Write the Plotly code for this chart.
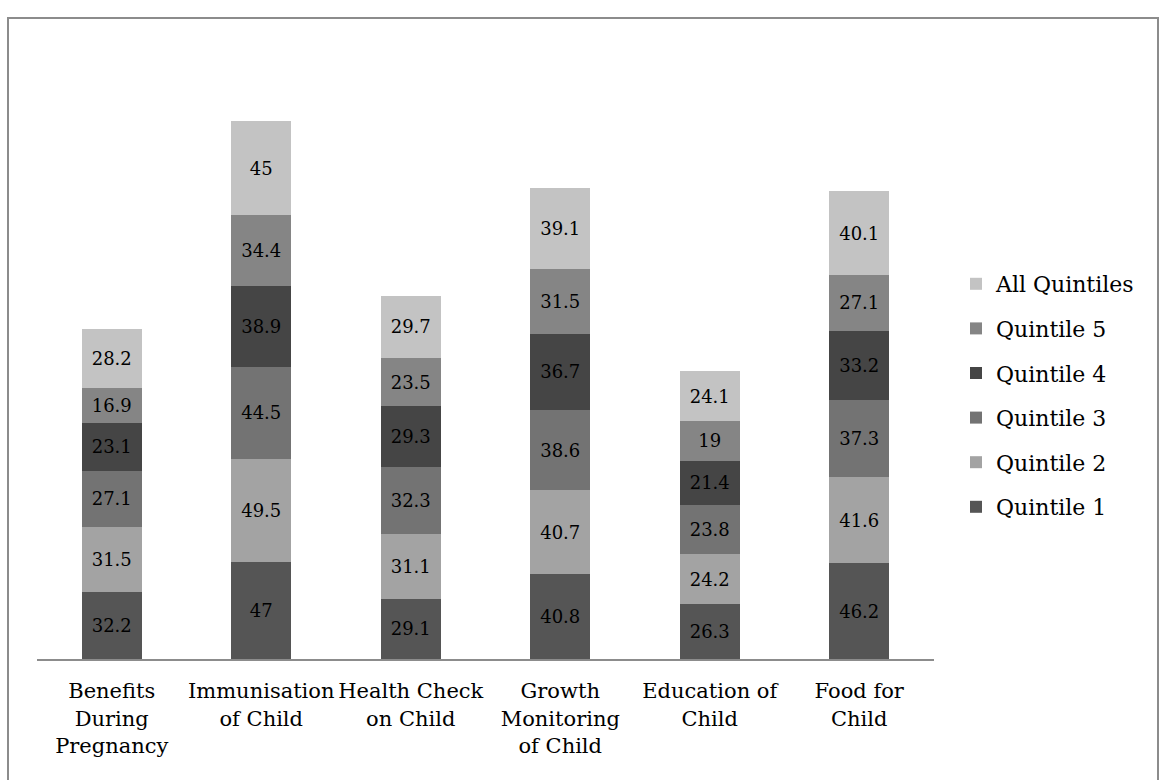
import plotly.graph_objects as go

categories = ["Benefits<br>During<br>Pregnancy", "Immunisation<br>of Child", "Health Check<br>on Child",
              "Growth<br>Monitoring<br>of Child", "Education of<br>Child", "Food for<br>Child"]
series_names = ["Quintile 1", "Quintile 2", "Quintile 3", "Quintile 4", "Quintile 5", "All Quintiles"]
q1 = [32.2, 47, 29.1, 40.8, 26.3, 46.2]
q2 = [31.5, 49.5, 31.1, 40.7, 24.2, 41.6]
q3 = [27.1, 44.5, 32.3, 38.6, 23.8, 37.3]
q4 = [23.1, 38.9, 29.3, 36.7, 21.4, 33.2]
q5 = [16.9, 34.4, 23.5, 31.5, 19, 27.1]
all_q = [28.2, 45, 29.7, 39.1, 24.1, 40.1]
series_values = [q1, q2, q3, q4, q5, all_q]
colors = ["#555555", "#a3a3a3", "#737373", "#454545", "#858585", "#c3c3c3"]

W, H = 1162, 780
L, R, T, B = 37, 228, 37, 121
pw, ph = W - L - R, H - T - B

FONT = "DejaVu Serif"

fig = go.Figure()
n = len(series_names)
for i, (name, vals, col) in enumerate(zip(series_names, series_values, colors)):
    fig.add_trace(go.Bar(
        x=categories, y=vals, name=name, marker=dict(color=col, line=dict(width=0)),
        text=[str(v) for v in vals], textposition="inside", insidetextanchor="middle",
        textangle=0, textfont=dict(family=FONT, size=18, color="black"),
        legendgroup=name, legendrank=n - i, cliponaxis=False,
    ))

def px_x(x):
    return (x - L) / pw

def px_y(y):
    return (H - B - y) / ph

fig.update_layout(
    width=W, height=H,
    margin=dict(l=L, r=R, t=T, b=B),
    paper_bgcolor="white", plot_bgcolor="white",
    barmode="stack", bargap=0.6,
    font=dict(family=FONT, color="black"),
    showlegend=True,
    legend=dict(traceorder="grouped", tracegroupgap=13,
                x=px_x(956), xanchor="left", y=px_y(395.5), yanchor="middle",
                font=dict(family=FONT, size=22, color="black"),
                itemwidth=30, bgcolor="rgba(0,0,0,0)"),
    xaxis=dict(showline=True, linecolor="#8c8c8c", linewidth=2, ticks="",
               ticklabelstandoff=12, tickangle=0, automargin=False,
               tickfont=dict(family=FONT, size=21, color="black"), showgrid=False, zeroline=False),
    yaxis=dict(range=[0, 300], visible=False, showgrid=False, zeroline=False, automargin=False),
    shapes=[dict(type="rect", xref="paper", yref="paper",
                 x0=px_x(8), x1=px_x(1158), y0=px_y(800), y1=px_y(18),
                 line=dict(color="#8c8c8c", width=2), fillcolor="rgba(0,0,0,0)", layer="below")],
)

fig.write_html("out.html")
